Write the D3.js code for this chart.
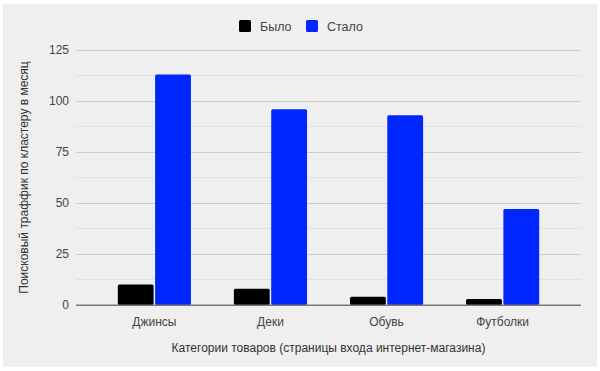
<!DOCTYPE html>
<html>
<head>
<meta charset="utf-8">
<script src="https://cdn.jsdelivr.net/npm/d3@7"></script>
<style>
  body { margin: 0; background: #fff; }
  text { font-family: "Liberation Sans", Arial, sans-serif; }
</style>
</head>
<body>
<div id="chart"></div>
<script>
// Data
const categories = ["Джинсы", "Деки", "Обувь", "Футболки"];
const seriesNames = ["Было", "Стало"];
const before = [10, 8, 4, 3];
const after = [113, 96, 93, 47];
const yTicks = [0, 25, 50, 75, 100, 125];
const minorTicks = [12.5, 37.5, 62.5, 87.5, 112.5];
const colors = ["#000000", "#0026ff"];

const width = 600;
const height = 371;
const plot = { left: 76, right: 581, top: 50, bottom: 305 };

const svg = d3.select("#chart")
    .append("svg")
    .attr("width", width)
    .attr("height", height);

// Gray panel
svg.append("rect")
    .attr("x", 3).attr("y", 4)
    .attr("width", 594).attr("height", 363)
    .attr("fill", "#efefef");

// Scales
const x0 = d3.scaleBand()
    .domain(categories)
    .range([plot.left, plot.right])
    .paddingInner(0.37)
    .paddingOuter(0.36);

const x1 = d3.scaleBand()
    .domain(seriesNames)
    .range([0, x0.bandwidth()])
    .paddingInner(0.04);

const y = d3.scaleLinear()
    .domain([0, 125])
    .range([plot.bottom, plot.top]);

// Minor gridlines
svg.append("g")
    .selectAll("line")
    .data(minorTicks)
    .join("line")
    .attr("x1", plot.left).attr("x2", plot.right)
    .attr("y1", d => y(d)).attr("y2", d => y(d))
    .attr("stroke", "#e2e2e2");

// Y axis with major gridlines
const yAxis = svg.append("g")
    .attr("transform", `translate(${plot.left},0)`)
    .call(d3.axisLeft(y).tickValues(yTicks).tickSize(-(plot.right - plot.left)).tickPadding(7));
yAxis.select(".domain").remove();
yAxis.selectAll(".tick line").attr("stroke", d => d === 0 ? "#777" : "#cccccc");
yAxis.selectAll(".tick text")
    .attr("fill", "#444")
    .style("font-size", "12px");

// Bars
const data = categories.map((c, i) => ({ cat: c, values: [before[i], after[i]] }));

svg.append("g")
    .selectAll("g")
    .data(data)
    .join("g")
    .attr("transform", d => `translate(${x0(d.cat)},0)`)
    .selectAll("rect")
    .data(d => d.values.map((v, j) => ({ name: seriesNames[j], value: v, color: colors[j] })))
    .join("rect")
    .attr("x", d => x1(d.name))
    .attr("y", d => y(d.value))
    .attr("width", x1.bandwidth())
    .attr("height", d => y(0) - y(d.value))
    .attr("rx", 1.5)
    .attr("fill", d => d.color);

// Baseline on top of bars
svg.append("line")
    .attr("x1", plot.left).attr("x2", plot.right)
    .attr("y1", y(0)).attr("y2", y(0))
    .attr("stroke", "#777");

// X axis labels
const xAxis = svg.append("g")
    .attr("transform", `translate(0,${plot.bottom})`)
    .call(d3.axisBottom(x0).tickSize(0).tickPadding(12));
xAxis.select(".domain").remove();
xAxis.selectAll(".tick text")
    .attr("fill", "#444")
    .style("font-size", "12px");

// Axis titles
svg.append("text")
    .attr("x", (plot.left + plot.right) / 2)
    .attr("y", 352)
    .attr("text-anchor", "middle")
    .attr("fill", "#333")
    .style("font-size", "12px")
    .text("Категории товаров (страницы входа интернет-магазина)");

svg.append("text")
    .attr("transform", `translate(28,${(plot.top + plot.bottom) / 2}) rotate(-90)`)
    .attr("text-anchor", "middle")
    .attr("fill", "#333")
    .style("font-size", "12px")
    .text("Поисковый траффик по кластеру в месяц");

// Legend
const legendX = [239, 306];
const legend = svg.append("g")
    .selectAll("g")
    .data(seriesNames)
    .join("g")
    .attr("transform", (d, i) => `translate(${legendX[i]},20)`);
legend.append("rect")
    .attr("width", 12).attr("height", 12)
    .attr("rx", 1.5)
    .attr("fill", (d, i) => colors[i]);
legend.append("text")
    .attr("x", 21).attr("y", 10.5)
    .attr("fill", "#444")
    .style("font-size", "12.5px")
    .text(d => d);
</script>
</body>
</html>
